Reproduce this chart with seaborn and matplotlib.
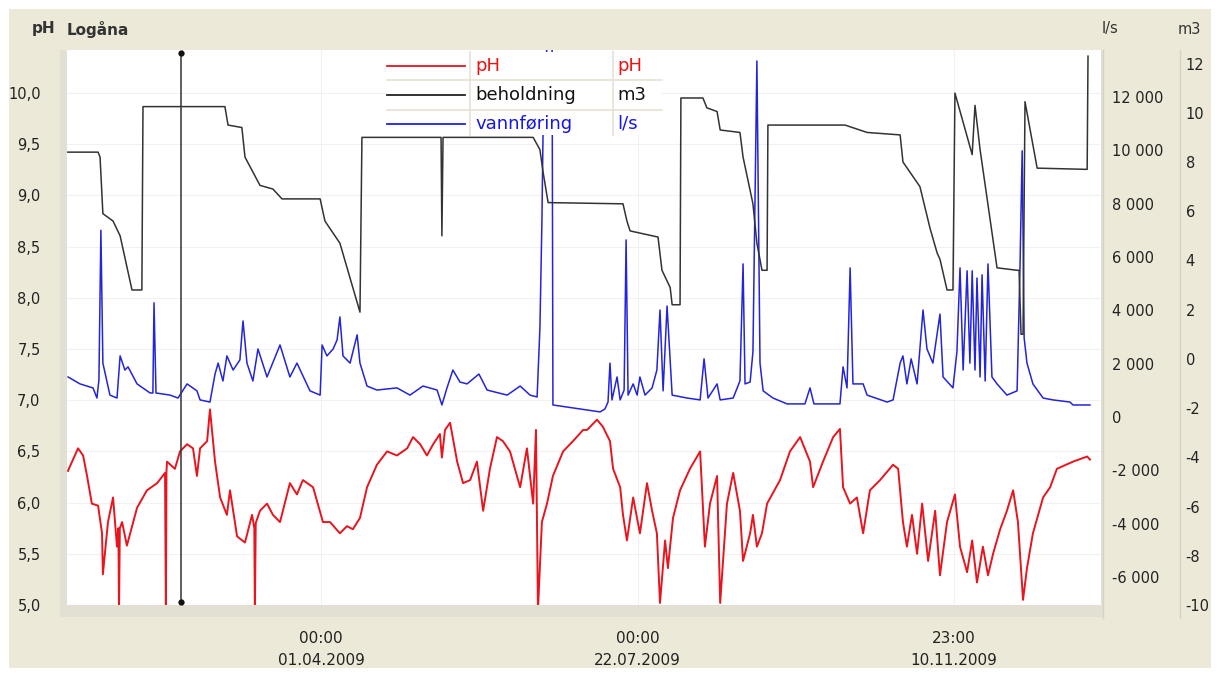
import pandas as pd
import matplotlib
matplotlib.use("Agg")
import matplotlib.pyplot as plt
import matplotlib.ticker as mticker
from matplotlib.patches import Rectangle
from matplotlib.lines import Line2D
import seaborn as sns

# Data: day offsets from 2009-01-01
start = pd.Timestamp("2009-01-01")

ph_days = [0.35, 3.9, 5.7, 7.1, 8.8, 11.0, 12.4, 12.7, 14.5, 16.3, 17.7, 18.2, 18.4, 18.7, 19.5,
           21.2, 24.8, 28.3, 31.9, 34.7, 35.0, 35.2, 35.4, 38.2, 40.0, 42.5, 44.6, 46.0, 47.1,
           49.6, 50.6, 52.4, 54.2, 56.6, 57.7, 60.2, 63.0, 65.5, 66.3, 66.5, 66.8, 68.3, 70.8,
           72.9, 75.4, 78.9, 81.4, 83.5, 87.1, 90.6, 93.1, 96.6, 99.1, 101.2, 103.7, 106.2,
           109.7, 113.3, 116.8, 120.4, 122.5, 125.0, 127.4, 129.6, 132.0, 132.7, 133.8, 135.6,
           138.1, 140.2, 142.7, 145.1, 147.3, 149.7, 152.2, 154.3, 156.8, 160.4, 162.8, 165.0,
           166.0, 166.7, 168.1, 169.9, 172.0, 175.6, 179.1, 182.7, 184.1, 187.6, 189.7, 192.2,
           193.3, 195.8, 196.8, 198.2, 200.4, 202.8, 205.3, 207.1, 208.8, 209.9, 211.7, 212.7,
           214.5, 217.0, 220.5, 224.1, 225.8, 227.6, 230.1, 231.2, 233.6, 235.8, 238.2, 239.3,
           241.8, 242.8, 244.2, 246.0, 247.8, 252.4, 255.9, 259.5, 263.0, 264.1, 267.6, 271.2,
           273.6, 274.7, 277.2, 279.6, 281.8, 284.2, 287.8, 292.4, 294.2, 295.9, 297.3, 299.1,
           300.9, 302.7, 304.8, 307.3, 309.0, 311.5, 314.3, 316.1, 318.6, 320.4, 322.1, 324.2,
           326.0, 327.8, 330.3, 332.7, 334.9, 336.6, 338.4, 339.8, 341.9, 345.5, 348.0, 350.4,
           356.1, 361.1, 362.1]
ph_values = [6.31, 6.53, 6.46, 6.26, 5.99, 5.97, 5.70, 5.30, 5.81, 6.05, 5.57, 5.75, 4.90, 5.75, 5.81,
             5.58, 5.95, 6.12, 6.19, 6.29, 4.90, 6.30, 6.40, 6.33, 6.50, 6.57, 6.53, 6.26, 6.53,
             6.60, 6.91, 6.40, 6.05, 5.88, 6.12, 5.67, 5.61, 5.88, 5.75, 4.90, 5.80, 5.92, 5.99,
             5.88, 5.81, 6.19, 6.08, 6.22, 6.15, 5.81, 5.81, 5.70, 5.77, 5.74, 5.85, 6.15,
             6.37, 6.50, 6.46, 6.53, 6.64, 6.57, 6.46, 6.57, 6.67, 6.44, 6.71, 6.78,
             6.40, 6.19, 6.22, 6.40, 5.92, 6.33, 6.64, 6.60, 6.50, 6.15, 6.53, 5.99,
             6.71, 4.95, 5.81, 5.99, 6.26, 6.50, 6.60, 6.71, 6.71, 6.81, 6.74, 6.60,
             6.33, 6.15, 5.88, 5.63, 6.05, 5.70, 6.19, 5.92, 5.70, 5.02, 5.63, 5.36,
             5.85, 6.12, 6.33, 6.50, 5.57, 5.99, 6.26, 5.02, 5.99, 6.29, 5.92, 5.43,
             5.70, 5.88, 5.57, 5.70, 5.99, 6.22, 6.50, 6.64, 6.40, 6.15, 6.40, 6.64,
             6.72, 6.15, 5.99, 6.05, 5.70, 6.12, 6.22, 6.37, 6.33, 5.81, 5.57, 5.88,
             5.50, 5.99, 5.43, 5.92, 5.29, 5.81, 6.08, 5.57, 5.32, 5.63, 5.22, 5.57,
             5.29, 5.50, 5.74, 5.92, 6.12, 5.81, 5.05, 5.36, 5.70, 6.05, 6.15, 6.33,
             6.40, 6.45, 6.42]

# beholdning, m3 (right axis)
stock_days = [0.3, 11.0, 11.7, 12.7, 16.3, 18.8, 23.0, 26.5, 26.9, 55.9, 57.0, 61.9, 63.0, 68.3,
              72.9, 76.1, 89.6, 91.3, 96.6, 103.7, 104.4, 132.4, 132.7, 133.1, 165.0, 167.4,
              168.5, 170.3, 196.8, 198.2, 199.3, 209.2, 210.6, 213.5, 214.2, 217.0, 217.3,
              225.1, 226.5, 230.1, 231.2, 238.2, 239.3, 242.8, 244.2, 246.0, 247.8, 248.1,
              275.4, 283.2, 294.9, 295.9, 301.9, 305.5, 308.0, 309.0, 311.5, 313.6, 314.3,
              320.4, 321.4, 323.2, 329.2, 336.3, 337.0, 337.7, 338.4, 339.1, 343.4, 361.1, 361.4]
stock_m3 = [8.4, 8.4, 8.2, 5.9, 5.6, 5.0, 2.8, 2.8, 10.25, 10.25, 9.5, 9.4, 8.2, 7.05,
            6.9, 6.5, 6.5, 5.6, 4.7, 1.9, 9.0, 9.0, 5.0, 9.0, 9.0, 8.5,
            7.6, 6.35, 6.3, 5.6, 5.2, 4.95, 3.6, 2.9, 2.2, 2.2, 10.6,
            10.6, 10.2, 10.05, 9.3, 9.2, 8.2, 6.3, 4.7, 3.6, 3.6, 9.5,
            9.5, 9.2, 9.1, 8.0, 7.0, 5.3, 4.3, 4.05, 2.8, 2.8, 10.8,
            8.3, 10.3, 8.5, 3.7, 3.6, 3.6, 1.0, 1.0, 10.45, 7.75, 7.7, 12.3]

# vannføring, l/s (right axis)
flow_days = [0.4, 4.6, 9.2, 10.6, 11.3, 12.0, 12.7, 15.2, 17.7, 18.8, 20.5, 21.6, 24.8, 29.4,
             30.4, 30.8, 31.5, 36.5, 39.3, 42.5, 46.0, 47.1, 50.6, 52.4, 53.5, 55.2, 56.6,
             58.8, 61.2, 62.3, 63.7, 65.8, 67.6, 70.8, 75.4, 78.9, 81.4, 86.0, 89.6, 90.3,
             92.0, 94.2, 95.6, 96.6, 97.7, 100.2, 102.7, 103.7, 106.2, 109.7, 116.8, 121.4,
             126.0, 131.0, 132.7, 134.5, 136.6, 139.1, 141.6, 145.8, 148.7, 155.8, 160.4,
             163.9, 166.4, 167.4, 168.1, 168.5, 169.9, 171.7, 172.0, 181.6, 188.7, 190.4,
             191.5, 192.2, 192.9, 194.7, 195.8, 197.2, 197.9, 198.6, 200.4, 201.8, 202.8,
             204.6, 207.1, 208.8, 209.9, 211.0, 212.4, 214.2, 219.5, 224.1, 225.5, 226.9,
             230.1, 231.2, 235.8, 238.2, 239.3, 240.0, 241.8, 242.8, 244.2, 245.3, 246.4,
             249.9, 254.9, 261.2, 263.0, 264.4, 273.6, 274.7, 276.1, 277.2, 278.2, 281.8,
             283.2, 290.3, 292.4, 294.9, 295.9, 297.3, 298.8, 300.9, 303.0, 304.4, 306.5,
             309.0, 310.1, 313.6, 315.0, 316.1, 317.2, 318.6, 319.6, 320.4, 321.4, 322.1,
             323.2, 323.9, 325.0, 326.0, 327.4, 329.2, 332.7, 336.3, 337.3, 338.1, 338.8,
             339.8, 341.9, 345.5, 349.0, 355.0, 356.1, 362.1]
flow_ls = [1500, 1240, 1090, 710, 1390, 7000, 2020, 820, 710, 2290, 1760, 1880, 1240, 900,
           900, 4280, 900, 820, 710, 1240, 980, 640, 560, 1610, 2020, 1350, 2290,
           1760, 2140, 3600, 2020, 1350, 2550, 1500, 2700, 1500, 2020, 980, 820, 2700,
           2290, 2550, 2890, 3750, 2290, 2020, 3080, 2020, 1160, 1010, 1090, 820,
           1160, 1010, 450, 1090, 1760, 1310, 1240, 1610, 1010, 820, 1160,
           820, 750, 3340, 7300, 10650, 14000, 14000, 450, 300, 190, 300,
           560, 2020, 640, 1500, 640, 1010, 6640, 820, 1240, 820, 1500,
           820, 1090, 1760, 4010, 980, 4160, 820, 710, 640, 2180, 710,
           1240, 640, 710, 1350, 5740, 1240, 1310, 2440, 13350, 2020, 980,
           710, 490, 490, 1090, 490, 490, 1880, 1090, 5590, 1240, 1240,
           820, 560, 640, 2020, 2290, 1240, 2180, 1240, 4010, 2550, 2020,
           3860, 1500, 1090, 2440, 5590, 1760, 5480, 2020, 5480, 1760, 5210,
           1500, 5330, 1350, 5740, 1500, 1240, 820, 980, 5480, 9980, 2960,
           2020, 1240, 710, 640, 560, 450, 450]

cursor_day = 40.4

tick_times = ["2009-04-01 00:00", "2009-07-22 00:00", "2009-11-10 23:00"]
tick_labels = ["00:00\n01.04.2009", "00:00\n22.07.2009", "23:00\n10.11.2009"]

legend_rows = [("pH", "pH", "#e8141e", "#f01010"),
               ("beholdning", "m3", "#222222", "#111111"),
               ("vannføring", "l/s", "#2020e0", "#1515f0")]

W, H = 1217, 673


def fx(px):
    return px / W


def fy(py):
    return 1 - py / H


def to_dates(days):
    return start + pd.to_timedelta(pd.Series(days), unit="D")


fig = plt.figure(figsize=(W / 100, H / 100), dpi=100, facecolor="white")
plt.rcParams["font.family"] = ["DejaVu Sans"]

# beige panel and sunken frame
fig.add_artist(Rectangle((fx(9), fy(668)), fx(1211) - fx(9), fy(9) - fy(668),
                         transform=fig.transFigure, facecolor="#ece9d8", edgecolor="none", zorder=-3))
fig.add_artist(Rectangle((fx(60), fy(617)), fx(1103) - fx(60), fy(50) - fy(617),
                         transform=fig.transFigure, facecolor="#e2dfd3", edgecolor="none", zorder=-2))
for sx in (1103, 1180):
    fig.add_artist(Line2D([fx(sx), fx(sx)], [fy(618), fy(50)], transform=fig.transFigure,
                          color="#d6d2c4", lw=1, zorder=-1))

ax = fig.add_axes([fx(67), fy(605), fx(1101) - fx(67), fy(50) - fy(605)])
ax.set_facecolor("white")
ax_ls = ax.twinx()
ax_m3 = ax.twinx()

sns.lineplot(x=to_dates(ph_days), y=ph_values, ax=ax, color="#e8141e", linewidth=1.4,
             estimator=None, sort=False)
sns.lineplot(x=to_dates(flow_days), y=flow_ls, ax=ax_ls, color="#2424d8", linewidth=1.1,
             estimator=None, sort=False)
sns.lineplot(x=to_dates(stock_days), y=stock_m3, ax=ax_m3, color="#333333", linewidth=1.1,
             estimator=None, sort=False)

# cursor line
cx = start + pd.Timedelta(days=cursor_day)
ax_m3.axvline(cx, ymin=0.006, ymax=0.994, color="#333333", lw=1.1)
ax_m3.plot([cx, cx], [0.006, 0.994], transform=ax_m3.get_xaxis_transform(), ls="none",
           marker="o", ms=3.5, color="#111111")

ax.set_xlim(start, start + pd.Timedelta(days=366))
ax.set_ylim(5.0, 10.42)
ax_ls.set_ylim(-7050, 13760)
ax_m3.set_ylim(-9.95, 12.55)

ax.set_yticks([5 + 0.5 * i for i in range(11)])
ax.yaxis.set_major_formatter(mticker.FuncFormatter(lambda v, p: f"{v:.1f}".replace(".", ",")))
ax_ls.set_yticks(range(-6000, 12001, 2000))
ax_ls.yaxis.set_major_formatter(mticker.FuncFormatter(lambda v, p: f"{v:,.0f}".replace(",", " ")))
ax_m3.set_yticks(range(-10, 13, 2))
ax_m3.yaxis.set_major_formatter(mticker.FuncFormatter(lambda v, p: f"{v:.0f}"))

ax.set_xticks(pd.to_datetime(tick_times))
ax.set_xticklabels(tick_labels)
for lbl in ax.get_xticklabels():
    lbl.set_linespacing(1.55)

for a in (ax, ax_ls, ax_m3):
    for s in a.spines.values():
        s.set_visible(False)
    a.set_xlabel("")
    a.set_ylabel("")

ax.tick_params(axis="x", length=0, pad=19, labelsize=11, labelcolor="#222222")
ax.tick_params(axis="y", length=0, pad=19, labelsize=10.5, labelcolor="#222222")
ax_ls.tick_params(axis="y", length=0, pad=8, labelsize=10.5, labelcolor="#222222")
ax_m3.tick_params(axis="y", length=0, pad=61, labelsize=10.5, labelcolor="#222222")
ax.grid(True, color="#f1f1f1", lw=0.8)
ax.set_axisbelow(True)

# header texts
fig.text(fx(32), fy(29), "pH", fontsize=11, fontweight="bold", color="#333333", va="center")
fig.text(fx(67), fy(29), "Logåna", fontsize=11, fontweight="bold", color="#333333", va="center")
fig.text(fx(1102), fy(29), "l/s", fontsize=10.5, color="#333333", va="center")
fig.text(fx(1178), fy(29), "m3", fontsize=10.5, color="#333333", va="center")

# legend table
fig.add_artist(Rectangle((fx(387), fy(135)), fx(662) - fx(387), fy(52) - fy(135),
                         transform=fig.transFigure, facecolor="white", edgecolor="none", zorder=5))
for sy in (80, 110):
    fig.add_artist(Line2D([fx(387), fx(662)], [fy(sy), fy(sy)], transform=fig.transFigure,
                          color="#e6e2d2", lw=1.2, zorder=6))
for sx in (470, 613):
    fig.add_artist(Line2D([fx(sx), fx(sx)], [fy(52), fy(135)], transform=fig.transFigure,
                          color="#e6e2d2", lw=1.2, zorder=6))
for i, (name, unit, lc, tc) in enumerate(legend_rows):
    yy = fy(66 + 29 * i)
    fig.add_artist(Line2D([fx(387), fx(465)], [yy, yy], transform=fig.transFigure,
                          color=lc, lw=1.3, zorder=7))
    fig.text(fx(475), yy, name, fontsize=13, color=tc, va="center", zorder=7)
    fig.text(fx(617), yy, unit, fontsize=13, color=tc, va="center", zorder=7)

fig.savefig("out.png", dpi=100, facecolor=fig.get_facecolor())
